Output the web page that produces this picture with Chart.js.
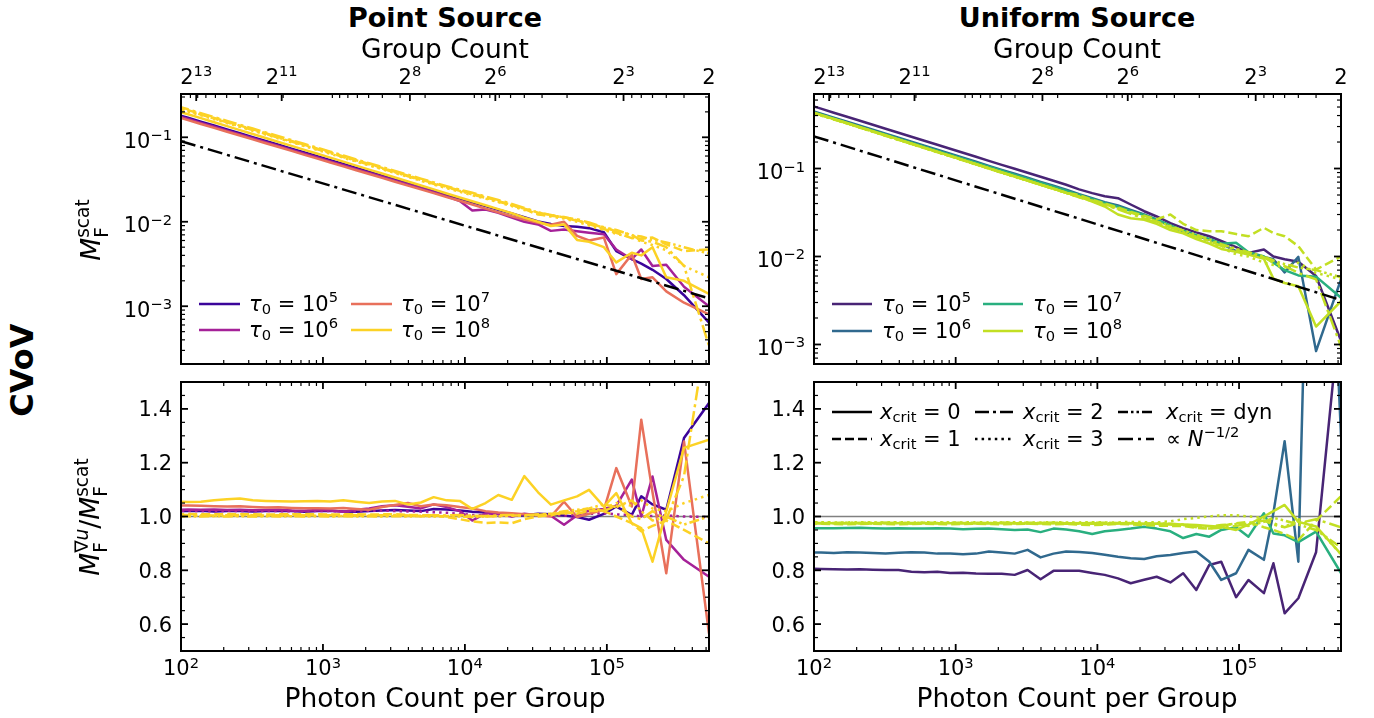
<!DOCTYPE html>
<html><head><meta charset="utf-8">
<script src="https://cdn.jsdelivr.net/npm/chart.js@4.4.1/dist/chart.umd.min.js"></script>
<style>
html,body{margin:0;padding:0;background:#fff;}
#wrap{position:relative;width:1374px;height:718px;overflow:hidden;background:#fff;font-family:'DejaVu Sans',sans-serif;color:#000;}
canvas{position:absolute;}
.t{position:absolute;white-space:nowrap;line-height:1;}
.c{transform:translate(-50%,-50%);}
.r{transform:translate(-50%,-50%) rotate(-90deg);}
.lt{transform:translateY(-50%);}
.title{font-weight:bold;font-size:27px;}
.lab{font-size:26.5px;}
.leg{font-size:21px;}
sub,sup{font-size:0.7em;line-height:0;}
sub{vertical-align:-0.22em;}
sup{vertical-align:0.55em;}
.ss{display:inline-block;font-size:0.7em;line-height:1;vertical-align:-0.42em;text-align:left;}
.ss span{display:block;}
svg{position:absolute;overflow:visible;}
</style></head>
<body><div id="wrap">
<canvas id="cLT" width="648" height="338" style="left:81px;top:34px"></canvas>
<canvas id="cRT" width="647" height="338" style="left:714px;top:34px"></canvas>
<canvas id="cLB" width="648" height="327" style="left:81px;top:374px"></canvas>
<canvas id="cRB" width="647" height="327" style="left:714px;top:374px"></canvas>

<div class="t c title" style="left:445px;top:17px">Point Source</div>
<div class="t c title" style="left:1077px;top:17px">Uniform Source</div>
<div class="t c lab" style="left:445px;top:49px">Group Count</div>
<div class="t c lab" style="left:1077px;top:49px">Group Count</div>
<div class="t c lab" style="left:445px;top:698px">Photon Count per Group</div>
<div class="t c lab" style="left:1077px;top:698px">Photon Count per Group</div>
<div class="t r title" style="left:22px;top:370px;font-size:32px">CVoV</div>
<div class="t r lab" style="left:93px;top:230px"><i>M</i><span class="ss"><span>scat</span><span>F</span></span></div>
<div class="t r lab" style="left:92px;top:517px"><i>M</i><span class="ss"><span>∇<i>u</i></span><span>F</span></span>/<i>M</i><span class="ss"><span>scat</span><span>F</span></span></div>

<!-- legend: point source -->
<svg style="left:199px;top:304px" width="41" height="1"><line x1="0" y1="0" x2="41" y2="0" stroke="#3b049a" stroke-width="2.5"/></svg>
<div class="t lt leg" style="left:249px;top:304px"><i>τ</i><sub>0</sub> = 10<sup>5</sup></div>
<svg style="left:199px;top:330px" width="41" height="1"><line x1="0" y1="0" x2="41" y2="0" stroke="#a52198" stroke-width="2.5"/></svg>
<div class="t lt leg" style="left:249px;top:330px"><i>τ</i><sub>0</sub> = 10<sup>6</sup></div>
<svg style="left:351px;top:304px" width="41" height="1"><line x1="0" y1="0" x2="41" y2="0" stroke="#e8705b" stroke-width="2.5"/></svg>
<div class="t lt leg" style="left:401px;top:304px"><i>τ</i><sub>0</sub> = 10<sup>7</sup></div>
<svg style="left:351px;top:330px" width="41" height="1"><line x1="0" y1="0" x2="41" y2="0" stroke="#fcd225" stroke-width="2.5"/></svg>
<div class="t lt leg" style="left:401px;top:330px"><i>τ</i><sub>0</sub> = 10<sup>8</sup></div>

<!-- legend: uniform source -->
<svg style="left:832px;top:304px" width="40" height="1"><line x1="0" y1="0" x2="40" y2="0" stroke="#482475" stroke-width="2.5"/></svg>
<div class="t lt leg" style="left:882px;top:304px"><i>τ</i><sub>0</sub> = 10<sup>5</sup></div>
<svg style="left:832px;top:331px" width="40" height="1"><line x1="0" y1="0" x2="40" y2="0" stroke="#30698e" stroke-width="2.5"/></svg>
<div class="t lt leg" style="left:882px;top:331px"><i>τ</i><sub>0</sub> = 10<sup>6</sup></div>
<svg style="left:983px;top:304px" width="40" height="1"><line x1="0" y1="0" x2="40" y2="0" stroke="#29af7f" stroke-width="2.5"/></svg>
<div class="t lt leg" style="left:1033px;top:304px"><i>τ</i><sub>0</sub> = 10<sup>7</sup></div>
<svg style="left:983px;top:331px" width="40" height="1"><line x1="0" y1="0" x2="40" y2="0" stroke="#c2df23" stroke-width="2.5"/></svg>
<div class="t lt leg" style="left:1033px;top:331px"><i>τ</i><sub>0</sub> = 10<sup>8</sup></div>

<!-- legend: line styles -->
<svg style="left:832px;top:412px" width="40" height="1"><line x1="0" y1="0" x2="40" y2="0" stroke="#000" stroke-width="2.5"/></svg>
<div class="t lt leg" style="left:880px;top:412px"><i>x</i><sub>crit</sub> = 0</div>
<svg style="left:832px;top:439px" width="40" height="1"><line x1="0" y1="0" x2="40" y2="0" stroke="#000" stroke-width="2.5" stroke-dasharray="9 4"/></svg>
<div class="t lt leg" style="left:880px;top:439px"><i>x</i><sub>crit</sub> = 1</div>
<svg style="left:975px;top:412px" width="38" height="1"><line x1="0" y1="0" x2="38" y2="0" stroke="#000" stroke-width="2.5" stroke-dasharray="14 4 3 4"/></svg>
<div class="t lt leg" style="left:1023px;top:412px"><i>x</i><sub>crit</sub> = 2</div>
<svg style="left:975px;top:439px" width="38" height="1"><line x1="0" y1="0" x2="38" y2="0" stroke="#000" stroke-width="2.5" stroke-dasharray="2.5 4.1"/></svg>
<div class="t lt leg" style="left:1023px;top:439px"><i>x</i><sub>crit</sub> = 3</div>
<svg style="left:1118px;top:412px" width="36" height="1"><line x1="0" y1="0" x2="36" y2="0" stroke="#000" stroke-width="2.5" stroke-dasharray="10 3 2.5 3 2.5 3"/></svg>
<div class="t lt leg" style="left:1166px;top:412px"><i>x</i><sub>crit</sub> = dyn</div>
<svg style="left:1118px;top:439px" width="36" height="1"><line x1="0" y1="0" x2="36" y2="0" stroke="#000" stroke-width="2.5" stroke-dasharray="15 5 3 5"/></svg>
<div class="t lt leg" style="left:1166px;top:439px">∝ <i>N</i><sup>−1/2</sup></div>
</div>

<script>
// ---------------- data ----------------
const photonCount = [91,112,138,171,211,260,320,395,487,601,742,914,1127,1391,1716,2114,2608,3217,3972,4900,6026,7437,9198,11275,13981,17190,21400,26214,32768,40330,49932,61681,74898,95325,116508,149797,174763,209715,262144,349525,524288];

const xTickValues = [1e2, 1e3, 1e4, 1e5];
const xTickLabels = ['10^2', '10^3', '10^4', '10^5'];
const groupTickX = [128, 512, 4096, 16384, 131072, 524288];
const groupTickLabels = ['2^13', '2^11', '2^8', '2^6', '2^3', '2'];
const groupMinorCounts = [3,4,5,6,7,9,20,30,40,50,60,70,80,90,200,300,400,500,600,700,800,900,2000,3000,4000,5000,6000,7000,8000,9000];
const TOTAL_PHOTONS = 1048576;
const logYTicks = [1e-3, 1e-2, 1e-1];
const logYLabels = ['10^−3', '10^−2', '10^−1'];
const linYTicks = [0.6, 0.8, 1.0, 1.2, 1.4];
const linYLabels = ['0.6', '0.8', '1.0', '1.2', '1.4'];

const refX = [100, 524288];
const refPointY = [0.090, 0.00124];
const refUniformY = [0.232, 0.0032];
const unityY = [1, 1];

// Point source, M_F^scat
const ps_t5 = [0.1886,0.1701,0.1532,0.1377,0.1238,0.1116,0.1006,0.0905,0.0815,0.0734,0.0661,0.0596,0.0536,0.0482,0.0434,0.0391,0.0352,0.0317,0.0286,0.0257,0.0232,0.0209,0.0188,0.0170,0.0153,0.0139,0.0125,0.0113,0.0101,0.0094,0.0089,0.0087,0.0084,0.0075,0.0045,0.0036,0.0032,0.0027,0.0021,0.00135,0.00064];
const ps_t6 = [0.1824,0.1644,0.1481,0.1331,0.1197,0.1079,0.0973,0.0875,0.0788,0.0710,0.0639,0.0576,0.0519,0.0466,0.0419,0.0378,0.0341,0.0307,0.0276,0.0249,0.0224,0.0200,0.0176,0.0136,0.0140,0.0128,0.0112,0.0100,0.0093,0.0078,0.0081,0.0077,0.0074,0.0071,0.0047,0.0036,0.0047,0.0030,0.0031,0.0017,0.00100];
const ps_t7 = [0.1771,0.1597,0.1438,0.1293,0.1163,0.1048,0.0945,0.0850,0.0766,0.0690,0.0620,0.0559,0.0504,0.0453,0.0407,0.0367,0.0331,0.0298,0.0268,0.0242,0.0218,0.0196,0.0177,0.0160,0.0143,0.0129,0.0116,0.0106,0.0097,0.0092,0.0100,0.0068,0.0060,0.0065,0.0024,0.0041,0.0021,0.0022,0.0015,0.0011,0.00080];
const ps_t8_x0 = [0.2075,0.1871,0.1685,0.1507,0.1355,0.1215,0.1093,0.0981,0.0881,0.0792,0.0710,0.0638,0.0574,0.0515,0.0462,0.0414,0.0372,0.0334,0.0300,0.0269,0.0242,0.0216,0.0194,0.0175,0.0157,0.0141,0.0126,0.0112,0.0100,0.0089,0.0093,0.0061,0.0058,0.0050,0.0033,0.0043,0.0040,0.0050,0.0022,0.0020,0.0014];
const ps_t8_x1 = [0.2327,0.2098,0.1889,0.1698,0.1527,0.1376,0.1241,0.1117,0.1006,0.0906,0.0815,0.0735,0.0662,0.0595,0.0535,0.0482,0.0435,0.0391,0.0352,0.0317,0.0286,0.0258,0.0236,0.0215,0.0196,0.0176,0.0158,0.0141,0.0122,0.0118,0.0114,0.0104,0.0094,0.0082,0.0074,0.0064,0.0063,0.0065,0.0054,0.0045,0.0047];
const ps_t8_x2 = [0.2380,0.2145,0.1932,0.1737,0.1562,0.1407,0.1269,0.1142,0.1028,0.0926,0.0833,0.0751,0.0676,0.0608,0.0547,0.0493,0.0444,0.0400,0.0360,0.0324,0.0292,0.0264,0.0240,0.0220,0.0199,0.0181,0.0163,0.0146,0.0128,0.0121,0.0112,0.0107,0.0098,0.0086,0.0077,0.0070,0.0060,0.0058,0.0050,0.0030,0.00034];
const ps_t8_x3 = [0.2243,0.2022,0.1821,0.1637,0.1472,0.1327,0.1196,0.1076,0.0969,0.0873,0.0785,0.0708,0.0638,0.0574,0.0516,0.0464,0.0419,0.0377,0.0340,0.0306,0.0276,0.0250,0.0227,0.0206,0.0188,0.0171,0.0153,0.0138,0.0124,0.0115,0.0109,0.0100,0.0090,0.0080,0.0072,0.0066,0.0058,0.0053,0.0046,0.0030,0.0022];
const ps_t8_xd = [0.2285,0.2060,0.1855,0.1668,0.1500,0.1352,0.1219,0.1097,0.0988,0.0889,0.0800,0.0722,0.0650,0.0584,0.0525,0.0473,0.0427,0.0384,0.0346,0.0312,0.0281,0.0255,0.0232,0.0211,0.0192,0.0174,0.0157,0.0143,0.0129,0.0120,0.0112,0.0103,0.0096,0.0085,0.0080,0.0069,0.0067,0.0061,0.0057,0.0050,0.0042];

// Point source, ratio
const psr_t5 = [1.020,1.020,1.021,1.019,1.020,1.020,1.019,1.020,1.021,1.020,1.018,1.020,1.021,1.019,1.018,1.020,1.022,1.024,1.022,1.020,1.028,1.026,1.022,1.018,1.015,1.010,1.002,1.005,1.010,1.008,1.004,0.998,0.988,1.010,1.037,1.006,1.075,1.045,1.025,1.292,1.422];
const psr_t6 = [1.025,1.026,1.025,1.026,1.024,1.025,1.023,1.024,1.025,1.022,1.021,1.024,1.022,1.018,1.025,1.030,1.038,1.042,1.036,1.030,1.045,1.035,1.020,0.985,1.012,1.008,1.000,1.010,1.005,1.003,0.969,1.005,1.022,1.028,1.040,1.137,1.000,1.149,0.913,0.839,0.776];
const psr_t6_x3 = [1.020,1.021,1.020,1.020,1.021,1.020,1.020,1.021,1.020,1.019,1.020,1.021,1.020,1.019,1.020,1.021,1.022,1.020,1.019,1.018,1.016,1.014,1.010,1.006,1.004,1.002,1.003,1.005,1.004,1.002,1.003,1.006,1.010,1.012,1.008,1.005,1.000,1.002,1.004,1.000,0.998];
const psr_t7 = [1.040,1.041,1.040,1.038,1.037,1.038,1.035,1.033,1.034,1.032,1.031,1.031,1.030,1.032,1.028,1.025,1.035,1.043,1.050,1.038,1.045,1.042,1.035,1.030,1.020,1.015,1.012,1.008,1.005,1.000,1.055,0.998,1.010,1.025,1.180,1.037,1.360,1.090,0.789,1.279,0.565];
const psr_t8_x0 = [1.055,1.054,1.055,1.060,1.064,1.067,1.060,1.058,1.057,1.056,1.057,1.058,1.056,1.060,1.055,1.050,1.056,1.058,1.045,1.052,1.072,1.060,1.058,1.028,1.050,1.080,1.062,1.150,1.090,1.044,1.060,1.075,1.099,1.037,1.087,0.975,0.957,0.832,1.019,1.255,1.286];
const psr_t8_x1 = [1.008,1.009,1.008,1.008,1.009,1.008,1.008,1.007,1.008,1.008,1.009,1.008,1.007,1.008,1.008,1.007,1.008,1.009,1.006,1.005,1.004,0.998,0.990,0.982,0.976,0.978,0.975,0.990,1.000,1.005,1.015,1.010,1.020,1.020,1.000,0.975,0.945,0.965,0.985,0.950,0.900];
const psr_t8_x2 = [1.005,1.006,1.005,1.004,1.005,1.006,1.005,1.004,1.005,1.006,1.005,1.004,1.005,1.006,1.005,1.004,1.005,1.006,1.004,1.003,1.005,1.004,1.006,1.003,1.002,1.004,1.006,1.004,1.008,1.010,1.012,1.020,1.030,1.020,1.040,1.000,0.990,1.020,0.990,1.150,1.750];
const psr_t8_x3 = [1.002,1.002,1.003,1.002,1.002,1.003,1.002,1.002,1.003,1.002,1.002,1.003,1.002,1.002,1.003,1.002,1.002,1.003,1.002,1.001,1.002,1.001,1.003,1.002,1.000,1.001,1.003,1.005,1.004,1.008,1.010,1.015,1.020,1.030,1.050,1.040,1.060,1.030,1.020,1.050,1.080];
const psr_t8_xd = [1.000,1.001,1.000,1.001,1.000,1.001,1.000,1.001,1.000,1.001,1.000,1.001,1.000,1.001,1.000,1.001,1.000,1.001,1.000,1.001,1.000,1.002,1.000,0.998,1.000,1.002,1.004,1.003,1.006,1.010,1.020,1.025,1.030,1.045,1.035,1.060,1.020,0.985,1.000,0.970,1.000];

// Uniform source, M_F^scat
const us_t5 = [0.531,0.479,0.431,0.388,0.349,0.3143,0.2834,0.2550,0.2297,0.2069,0.1861,0.1678,0.1511,0.1359,0.1222,0.1100,0.0993,0.0894,0.0805,0.0725,0.0653,0.0580,0.0525,0.0484,0.0460,0.0390,0.0327,0.0285,0.0240,0.0210,0.0188,0.0170,0.0150,0.0128,0.0110,0.0120,0.0100,0.0093,0.0087,0.0060,0.0011];
const us_t6 = [0.466,0.4205,0.3787,0.3404,0.3062,0.2759,0.2488,0.2238,0.2016,0.1816,0.1633,0.1473,0.1326,0.1193,0.1072,0.0966,0.0871,0.0785,0.0706,0.0636,0.0573,0.0510,0.0460,0.0415,0.0380,0.0338,0.0300,0.0262,0.0222,0.0195,0.0172,0.0155,0.0140,0.0115,0.0108,0.0099,0.0093,0.0066,0.0099,0.00084,0.0055];
const us_t7 = [0.4559,0.4111,0.3702,0.3328,0.2993,0.2697,0.2432,0.2188,0.1971,0.1775,0.1596,0.1440,0.1296,0.1166,0.1048,0.0944,0.0852,0.0767,0.0690,0.0622,0.0560,0.0500,0.0450,0.0405,0.0368,0.0330,0.0296,0.0262,0.0225,0.0196,0.0175,0.0158,0.0140,0.0143,0.0112,0.0100,0.0085,0.0070,0.0061,0.0059,0.0034];
const us_t8_x0 = [0.4506,0.4064,0.3659,0.3290,0.2952,0.2654,0.2387,0.2143,0.1925,0.1730,0.1552,0.1397,0.1254,0.1126,0.1010,0.0907,0.0816,0.0733,0.0659,0.0592,0.0531,0.0480,0.0420,0.0370,0.0300,0.0272,0.0262,0.0235,0.0200,0.0183,0.0158,0.0140,0.0122,0.0113,0.0105,0.0094,0.0056,0.0050,0.0046,0.0016,0.0031];
const us_t8_x1 = [0.4460,0.4020,0.3620,0.3255,0.2920,0.2625,0.2360,0.2120,0.1905,0.1712,0.1536,0.1383,0.1241,0.1115,0.1000,0.0898,0.0808,0.0727,0.0654,0.0588,0.0530,0.0500,0.0440,0.0400,0.0360,0.0322,0.0290,0.0265,0.0300,0.0235,0.0200,0.0194,0.0194,0.0180,0.0170,0.0212,0.0185,0.0170,0.0131,0.0071,0.0100];
const us_t8_x2 = [0.4480,0.4040,0.3640,0.3270,0.2935,0.2640,0.2372,0.2130,0.1915,0.1720,0.1544,0.1390,0.1247,0.1120,0.1005,0.0902,0.0812,0.0730,0.0656,0.0590,0.0528,0.0470,0.0425,0.0385,0.0345,0.0305,0.0270,0.0240,0.0215,0.0190,0.0168,0.0150,0.0132,0.0120,0.0108,0.0098,0.0085,0.0078,0.0065,0.0055,0.00095];
const us_t8_x3 = [0.4440,0.4005,0.3605,0.3240,0.2910,0.2615,0.2350,0.2112,0.1898,0.1705,0.1530,0.1378,0.1237,0.1110,0.0996,0.0895,0.0805,0.0724,0.0651,0.0585,0.0526,0.0475,0.0430,0.0390,0.0350,0.0312,0.0276,0.0245,0.0218,0.0192,0.0170,0.0148,0.0125,0.0106,0.0100,0.0085,0.0080,0.0075,0.0085,0.0065,0.0055];
const us_t8_xd = [0.4470,0.4030,0.3630,0.3262,0.2928,0.2632,0.2366,0.2125,0.1910,0.1716,0.1540,0.1386,0.1244,0.1118,0.1002,0.0900,0.0810,0.0728,0.0655,0.0589,0.0529,0.0478,0.0432,0.0392,0.0352,0.0316,0.0282,0.0250,0.0222,0.0198,0.0176,0.0156,0.0138,0.0122,0.0112,0.0100,0.0090,0.0082,0.0075,0.0070,0.0058];

// Uniform source, ratio
const usr_t5 = [0.806,0.805,0.804,0.803,0.804,0.802,0.801,0.801,0.795,0.793,0.795,0.790,0.791,0.788,0.787,0.787,0.783,0.801,0.767,0.798,0.798,0.798,0.790,0.783,0.770,0.752,0.765,0.776,0.755,0.789,0.727,0.820,0.832,0.700,0.764,0.715,0.826,0.640,0.696,0.867,1.800];
const usr_t6 = [0.866,0.866,0.864,0.867,0.866,0.864,0.862,0.865,0.867,0.866,0.862,0.862,0.860,0.862,0.870,0.866,0.862,0.876,0.848,0.862,0.870,0.868,0.864,0.858,0.850,0.845,0.842,0.852,0.857,0.864,0.870,0.832,0.764,0.789,0.876,0.839,1.013,1.280,0.832,3.400,1.300];
const usr_t7 = [0.957,0.956,0.956,0.957,0.958,0.956,0.955,0.956,0.955,0.955,0.956,0.955,0.953,0.954,0.955,0.953,0.950,0.952,0.942,0.955,0.952,0.945,0.935,0.945,0.950,0.955,0.962,0.955,0.945,0.920,0.935,0.925,0.950,0.960,0.925,1.012,0.937,0.930,0.905,0.944,0.790];
const usr_t8_x0 = [0.975,0.976,0.975,0.974,0.976,0.975,0.977,0.975,0.974,0.976,0.975,0.975,0.976,0.974,0.975,0.976,0.975,0.974,0.976,0.975,0.973,0.975,0.976,0.972,0.974,0.975,0.973,0.974,0.972,0.970,0.968,0.965,0.962,0.950,0.970,1.000,1.020,1.043,0.980,0.963,0.860];
const usr_t8_x1 = [0.972,0.973,0.972,0.971,0.972,0.973,0.972,0.971,0.972,0.973,0.972,0.971,0.972,0.973,0.972,0.971,0.972,0.973,0.972,0.971,0.972,0.970,0.968,0.970,0.972,0.971,0.968,0.966,0.965,0.965,0.958,0.955,0.965,0.975,0.980,0.960,0.950,0.935,0.912,0.985,1.075];
const usr_t8_x2 = [0.975,0.974,0.975,0.976,0.975,0.974,0.975,0.976,0.975,0.974,0.975,0.976,0.975,0.974,0.975,0.976,0.975,0.974,0.975,0.976,0.975,0.974,0.973,0.975,0.976,0.974,0.972,0.971,0.970,0.968,0.960,0.955,0.958,0.965,0.975,0.985,0.970,0.960,0.975,0.990,0.960];
const usr_t8_x3 = [0.978,0.979,0.978,0.978,0.979,0.978,0.978,0.979,0.978,0.978,0.979,0.978,0.978,0.979,0.978,0.978,0.979,0.978,0.978,0.979,0.978,0.978,0.979,0.978,0.978,0.980,0.979,0.978,0.982,0.990,0.995,1.000,1.005,1.005,1.000,0.995,0.975,0.960,0.990,0.960,0.860];
const usr_t8_xd = [0.976,0.977,0.976,0.977,0.976,0.977,0.976,0.977,0.976,0.977,0.976,0.977,0.976,0.977,0.976,0.977,0.976,0.977,0.976,0.977,0.976,0.975,0.976,0.977,0.975,0.976,0.974,0.975,0.973,0.970,0.965,0.962,0.968,0.972,0.965,0.980,0.995,0.985,0.970,0.950,0.885];

// ---------------- styling ----------------
const PLASMA = ['#3b049a', '#a52198', '#e8705b', '#fcd225'];
const VIRIDIS = ['#482475', '#30698e', '#29af7f', '#c2df23'];
const DASH = { x0: [], x1: [9, 4], x2: [14, 4, 3, 4], x3: [2.5, 4.1], xd: [10, 3, 2.5, 3, 2.5, 3], ref: [15, 5, 3, 5] };
const X_MIN = 100, X_MAX = 524288;
const ML = 100, MR = 20, MTOP = 60, MGAP = 8, MBOT = 50;
const FONT = "'DejaVu Sans', sans-serif";
const TICK_FS = 21, SUP_FS = 14.7, SUP_RAISE = 7.5;

function line(xs, ys, color, dash, order, width) {
  return {
    data: xs.map((x, i) => ({ x: x, y: ys[i] })),
    borderColor: color, borderWidth: width || 2.5, borderDash: DASH[dash],
    pointRadius: 0, pointHoverRadius: 0, tension: 0, fill: false, order: order,
    borderJoinStyle: 'round', borderCapStyle: 'butt'
  };
}

function logMinor(lo, hi) {
  const out = [];
  for (let e = -6; e <= 7; e++) for (let m = 2; m <= 9; m++) {
    const v = m * Math.pow(10, e);
    if (v > lo && v < hi) out.push(v);
  }
  return out;
}
function linMinor() {
  const out = [];
  for (let k = 11; k < 30; k++) if (k % 4 !== 0) out.push(k * 0.05);
  return out;
}

function drawLabel(ctx, label, x, baseY, align) {
  const parts = label.split('^');
  const base = parts[0], exp = parts[1];
  ctx.font = TICK_FS + 'px ' + FONT;
  const wb = ctx.measureText(base).width;
  let we = 0;
  if (exp) { ctx.font = SUP_FS + 'px ' + FONT; we = ctx.measureText(exp).width; }
  const w = wb + we;
  const x0 = align === 'right' ? x - w : x - w / 2;
  ctx.textAlign = 'left'; ctx.textBaseline = 'alphabetic'; ctx.fillStyle = '#000';
  ctx.font = TICK_FS + 'px ' + FONT;
  ctx.fillText(base, x0, baseY);
  if (exp) { ctx.font = SUP_FS + 'px ' + FONT; ctx.fillText(exp, x0 + wb, baseY - SUP_RAISE); }
}

const tickPlugin = {
  id: 'axfx',
  afterDraw(chart, args, o) {
    const ctx = chart.ctx, a = chart.chartArea;
    const xs = chart.scales.x, ys = chart.scales.y;
    ctx.save();
    ctx.strokeStyle = '#000';
    const seg = (x1, y1, x2, y2, w) => { ctx.lineWidth = w; ctx.beginPath(); ctx.moveTo(x1, y1); ctx.lineTo(x2, y2); ctx.stroke(); };
    const inX = p => p >= a.left - 0.5 && p <= a.right + 0.5;
    const inY = p => p >= a.top - 0.5 && p <= a.bottom + 0.5;
    for (const [vals, len, w] of [[o.xMajor, 7, 1.8], [o.xMinor, 4, 1.2]]) for (const v of vals) {
      const p = xs.getPixelForValue(v); if (!inX(p)) continue;
      seg(p, a.bottom, p, a.bottom - len, w);
      if (o.mirrorX) seg(p, a.top, p, a.top + len, w);
    }
    if (o.topMajor) {
      for (const [vals, len, w] of [[o.topMajor, 7, 1.8], [o.topMinor, 4, 1.2]]) for (const v of vals) {
        const p = xs.getPixelForValue(v); if (!inX(p)) continue;
        seg(p, a.top, p, a.top + len, w);
      }
    }
    for (const [vals, len, w] of [[o.yMajor, 7, 1.8], [o.yMinor, 4, 1.2]]) for (const v of vals) {
      const p = ys.getPixelForValue(v); if (!inY(p)) continue;
      seg(a.left, p, a.left + len, p, w);
      seg(a.right, p, a.right - len, p, w);
    }
    ctx.lineWidth = 2;
    ctx.strokeRect(a.left, a.top, a.right - a.left, a.bottom - a.top);
    // tick labels
    if (o.xLabels) o.xMajor.forEach((v, i) => drawLabel(ctx, o.xLabels[i], xs.getPixelForValue(v), a.bottom + 24, 'center'));
    if (o.topLabels) o.topMajor.forEach((v, i) => drawLabel(ctx, o.topLabels[i], xs.getPixelForValue(v), a.top - 10.5, 'center'));
    o.yMajor.forEach((v, i) => drawLabel(ctx, o.yLabels[i], a.left - 9, ys.getPixelForValue(v) + o.yBaseOffset, 'right'));
    ctx.restore();
  }
};

function makeChart(id, cfg) {
  const top = cfg.top;
  const isLog = cfg.yType === 'logarithmic';
  const scales = {
    x: {
      type: 'logarithmic', position: 'bottom', min: X_MIN, max: X_MAX,
      grid: { display: false }, border: { display: false }, ticks: { display: false },
      afterFit: s => { s.height = top ? MGAP : MBOT; s.paddingLeft = 0; s.paddingRight = 0; }
    },
    y: {
      type: cfg.yType, position: 'left', min: cfg.yMin, max: cfg.yMax,
      grid: { display: false }, border: { display: false }, ticks: { display: false },
      afterFit: s => { s.width = ML; s.paddingTop = 0; s.paddingBottom = 0; }
    }
  };
  const groupMinorX = groupMinorCounts.map(g => TOTAL_PHOTONS / g);
  new Chart(document.getElementById(id), {
    type: 'line',
    data: { datasets: cfg.datasets },
    options: {
      responsive: false, animation: false, devicePixelRatio: 1,
      layout: { padding: { left: 0, right: MR, top: top ? MTOP : MGAP, bottom: 0 } },
      scales: scales,
      plugins: {
        legend: { display: false }, tooltip: { enabled: false },
        axfx: {
          xMajor: xTickValues, xMinor: logMinor(X_MIN, X_MAX), mirrorX: !top,
          xLabels: top ? null : xTickLabels,
          topMajor: top ? groupTickX : null, topMinor: top ? groupMinorX : null,
          topLabels: top ? groupTickLabels : null,
          yMajor: cfg.yTicks, yLabels: cfg.yLabels, yBaseOffset: isLog ? 10.5 : 7.5,
          yMinor: isLog ? logMinor(cfg.yMin, cfg.yMax) : linMinor()
        }
      }
    },
    plugins: [tickPlugin]
  });
}

const P = photonCount;

makeChart('cLT', {
  top: true, yType: 'logarithmic', yMin: 2.07e-4, yMax: 0.3255, yTicks: logYTicks, yLabels: logYLabels,
  datasets: [
    line(refX, refPointY, '#000', 'ref', 5),
    line(P, ps_t8_xd, PLASMA[3], 'xd', 10),
    line(P, ps_t8_x3, PLASMA[3], 'x3', 11),
    line(P, ps_t8_x2, PLASMA[3], 'x2', 12),
    line(P, ps_t8_x1, PLASMA[3], 'x1', 13),
    line(P, ps_t8_x0, PLASMA[3], 'x0', 14),
    line(P, ps_t7, PLASMA[2], 'x0', 24),
    line(P, ps_t6, PLASMA[1], 'x0', 34),
    line(P, ps_t5, PLASMA[0], 'x0', 44)
  ]
});

makeChart('cRT', {
  top: true, yType: 'logarithmic', yMin: 6.08e-4, yMax: 0.703, yTicks: logYTicks, yLabels: logYLabels,
  datasets: [
    line(refX, refUniformY, '#000', 'ref', 5),
    line(P, us_t8_xd, VIRIDIS[3], 'xd', 10),
    line(P, us_t8_x3, VIRIDIS[3], 'x3', 11),
    line(P, us_t8_x2, VIRIDIS[3], 'x2', 12),
    line(P, us_t8_x1, VIRIDIS[3], 'x1', 13),
    line(P, us_t8_x0, VIRIDIS[3], 'x0', 14),
    line(P, us_t7, VIRIDIS[2], 'x0', 24),
    line(P, us_t6, VIRIDIS[1], 'x0', 34),
    line(P, us_t5, VIRIDIS[0], 'x0', 44)
  ]
});

makeChart('cLB', {
  top: false, yType: 'linear', yMin: 0.5, yMax: 1.5, yTicks: linYTicks, yLabels: linYLabels,
  datasets: [
    line(refX, unityY, '#808080', 'x0', 100, 1.6),
    line(P, psr_t8_xd, PLASMA[3], 'xd', 10),
    line(P, psr_t8_x3, PLASMA[3], 'x3', 11),
    line(P, psr_t8_x2, PLASMA[3], 'x2', 12),
    line(P, psr_t8_x1, PLASMA[3], 'x1', 13),
    line(P, psr_t8_x0, PLASMA[3], 'x0', 14),
    line(P, psr_t7, PLASMA[2], 'x0', 24),
    line(P, psr_t6_x3, PLASMA[1], 'x3', 33),
    line(P, psr_t6, PLASMA[1], 'x0', 34),
    line(P, psr_t5, PLASMA[0], 'x0', 44)
  ]
});

makeChart('cRB', {
  top: false, yType: 'linear', yMin: 0.5, yMax: 1.5, yTicks: linYTicks, yLabels: linYLabels,
  datasets: [
    line(refX, unityY, '#808080', 'x0', 100, 1.6),
    line(P, usr_t8_xd, VIRIDIS[3], 'xd', 10),
    line(P, usr_t8_x3, VIRIDIS[3], 'x3', 11),
    line(P, usr_t8_x2, VIRIDIS[3], 'x2', 12),
    line(P, usr_t8_x1, VIRIDIS[3], 'x1', 13),
    line(P, usr_t8_x0, VIRIDIS[3], 'x0', 14),
    line(P, usr_t7, VIRIDIS[2], 'x0', 24),
    line(P, usr_t6, VIRIDIS[1], 'x0', 34),
    line(P, usr_t5, VIRIDIS[0], 'x0', 44)
  ]
});
</script>
</body></html>
